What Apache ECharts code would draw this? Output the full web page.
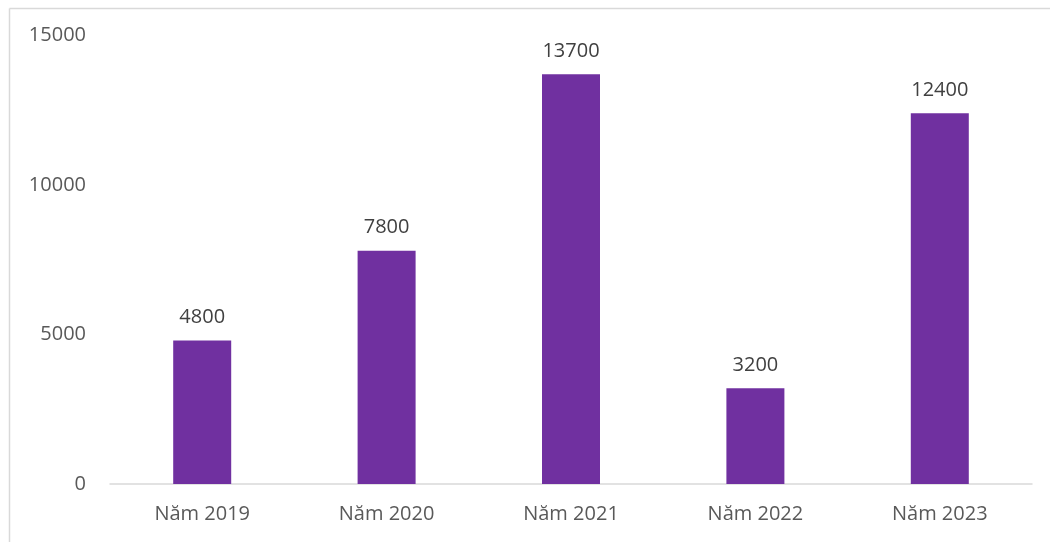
<!DOCTYPE html>
<html><head><meta charset="utf-8">
<script src="https://cdn.jsdelivr.net/npm/echarts@6/dist/echarts.min.js"></script>
<style>html,body{margin:0;padding:0;background:#fff}#c{width:1050px;height:542px}</style>
</head><body><div id="c"></div>
<script>
const categories = ['Năm 2019','Năm 2020','Năm 2021','Năm 2022','Năm 2023'];
const values = [4800, 7800, 13700, 3200, 12400];
const yTicks = {min:0, max:15000, interval:5000};
const chart = echarts.init(document.getElementById('c'));
const font = '"Open Sans", sans-serif';
chart.setOption({
  animation:false,
  graphic:[
    {type:'line', shape:{x1:9.5,y1:8.5,x2:1050,y2:8.5}, style:{stroke:'#d9d9d9',lineWidth:1.5}},
    {type:'line', shape:{x1:9.5,y1:8.5,x2:9.5,y2:542}, style:{stroke:'#d9d9d9',lineWidth:1.5}}
  ],
  grid:{left:110,right:18,top:35.5,bottom:58},
  xAxis:{type:'category',data:categories,
    axisLine:{lineStyle:{color:'#d9d9d9',width:1.5}},axisTick:{show:false},
    axisLabel:{color:'#595959',fontSize:20,fontFamily:font,margin:20}},
  yAxis:{type:'value',min:yTicks.min,max:yTicks.max,interval:yTicks.interval,
    splitLine:{show:false},axisLine:{show:false},axisTick:{show:false},
    axisLabel:{color:'#595959',fontSize:20,fontFamily:font,margin:24,formatter:v=>String(v)}},
  series:[{type:'bar',data:values,barWidth:58,itemStyle:{color:'#7030A0'},
    label:{show:true,position:'top',distance:13,color:'#404040',fontSize:20,fontFamily:font}}]
});
</script></body></html>
